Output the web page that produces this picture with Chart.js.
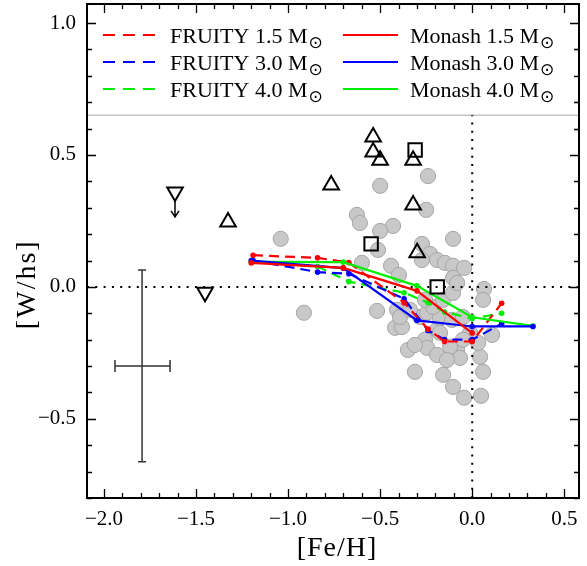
<!DOCTYPE html>
<html>
<head>
<meta charset="utf-8">
<script src="https://cdn.jsdelivr.net/npm/chart.js@4/dist/chart.umd.min.js"></script>
<style>
  html, body { margin: 0; padding: 0; background: #fff; }
  #wrap { width: 587px; height: 566px; }
</style>
</head>
<body>
<div id="wrap"><canvas id="chart" width="587" height="566"></canvas></div>
<script>
// tick labels
const xTickVals = [-2.0, -1.5, -1.0, -0.5, 0.0, 0.5];
const yTickVals = [-0.5, 0.0, 0.5, 1.0];

// observed stars (grey circles)
const starsFeH = [-1.04, -0.914, -0.50, -0.24, -0.626, -0.61, -0.43, -0.50, -0.25, -0.104,
  -0.512, -0.273, -0.229, -0.273, -0.191, -0.148, -0.104, -0.044, -0.599, -0.441,
  -0.398, -0.104, 0.064, -0.517, -0.408, -0.419, -0.381, -0.349, -0.311, -0.256,
  -0.245, -0.191, -0.158, -0.104, -0.044, 0.048, 0.059, 0.043, 0.032, 0.108,
  0.059, -0.082, -0.12, -0.066, -0.283, -0.245, -0.175, -0.11, -0.05, -0.213,
  -0.158, -0.104, -0.082, -0.392, -0.338, -0.012, -0.05, -0.175, -0.256, -0.311,
  -0.191, -0.137];
const starsWhs = [0.182, -0.098, 0.383, 0.42, 0.273, 0.242, 0.231, 0.212, 0.292, 0.182,
  0.14, 0.163, 0.125, 0.102, 0.102, 0.091, 0.08, 0.072, 0.091, 0.08,
  0.045, 0.034, -0.008, -0.091, -0.087, -0.155, -0.152, -0.239, -0.322, -0.2,
  -0.231, -0.163, -0.333, -0.379, -0.42, -0.413, -0.322, -0.265, -0.212, -0.182,
  -0.049, -0.239, -0.227, -0.269, -0.114, -0.098, -0.117, -0.125, -0.114, -0.076,
  -0.049, -0.023, 0.015, -0.114, -0.087, -0.174, -0.2, -0.174, -0.049, -0.22,
  -0.258, -0.277];

// open triangles
const triFeH = [-1.326, -0.766, -0.538, -0.538, -0.50, -0.321, -0.321, -0.299];
const triWhs = [0.246, 0.386, 0.568, 0.511, 0.48, 0.31, 0.48, 0.129];
// open squares
const sqFeH = [-0.31, -0.549, -0.19];
const sqWhs = [0.519, 0.163, 0.0];
// upside-down triangles (upper limits)
const downFeH = [-1.614, -1.451];
const downWhs = [0.36, -0.02];
const limitFeH = [-1.614];
const limitFrom = [0.33];
const limitTo = [0.265];

// typical error bar
const errFeH = [-1.793];
const errWhs = [-0.30];
const errFeHLo = [-1.94];
const errFeHHi = [-1.641];
const errWhsLo = [-0.663];
const errWhsHi = [0.064];

// FRUITY models
const fruityFeH = [-1.19, -0.84, -0.67, -0.37, -0.24, -0.15, 0.0, 0.16];
const fruity15 = [0.12, 0.11, 0.092, -0.06, -0.16, -0.207, -0.207, -0.062];
const fruity30 = [0.10, 0.056, 0.05, -0.045, -0.165, -0.20, -0.20, -0.14];
const fruity40 = [0.095, 0.077, 0.02, -0.022, -0.06, -0.095, -0.12, -0.10];

// Monash models
const monashFeH = [-1.2, -0.7, -0.3, 0.0, 0.33];
const monash15 = [0.091, 0.072, -0.015, -0.175];
const monash30 = [0.10, 0.071, -0.127, -0.15, -0.15];
const monash40 = [0.095, 0.094, 0.004, -0.115, -0.148];

// reference lines
const zeroLine = [0.0];
const legendLine = [0.65];

const xMin = -2.092, xMax = 0.58;
const yMin = -0.8, yMax = 1.072;

const pts = (xs, ys) => ys.map((v, i) => ({ x: xs[i], y: v }));
const serif = '"Liberation Serif", "DejaVu Serif", serif';

function modelSet(label, xs, ys, color, dashed, order) {
    return {
        label: label,
        data: pts(xs, ys),
        showLine: true,
        borderColor: color,
        backgroundColor: color,
        borderWidth: 2.2,
        borderDash: dashed ? [10, 6] : [],
        pointRadius: 2.8,
        pointBorderWidth: 0,
        order: order
    };
}

const legendItems = [
    { text: 'FRUITY 1.5 M', color: '#ff0000', dashed: true, col: 0, row: 0 },
    { text: 'FRUITY 3.0 M', color: '#0000ff', dashed: true, col: 0, row: 1 },
    { text: 'FRUITY 4.0 M', color: '#00ee00', dashed: true, col: 0, row: 2 },
    { text: 'Monash 1.5 M', color: '#ff0000', dashed: false, col: 1, row: 0 },
    { text: 'Monash 3.0 M', color: '#0000ff', dashed: false, col: 1, row: 1 },
    { text: 'Monash 4.0 M', color: '#00ee00', dashed: false, col: 1, row: 2 }
];

// frame with inward major/minor ticks on all sides, plus axis titles
const frameTicks = {
    id: 'frameTicks',
    afterDraw(chart) {
        const { ctx, chartArea: a, scales: { x, y } } = chart;
        ctx.save();
        ctx.strokeStyle = '#000';
        ctx.lineWidth = 1.3;
        ctx.beginPath();
        for (let v = Math.ceil(xMin * 10); v <= Math.floor(xMax * 10); v++) {
            const px = Math.round(x.getPixelForValue(v / 10)) + 0.5;
            const len = v % 5 === 0 ? 9 : 5;
            ctx.moveTo(px, a.bottom); ctx.lineTo(px, a.bottom - len);
            ctx.moveTo(px, a.top); ctx.lineTo(px, a.top + len);
        }
        for (let v = Math.ceil(yMin * 10); v <= Math.floor(yMax * 10); v++) {
            const py = Math.round(y.getPixelForValue(v / 10)) + 0.5;
            const len = v % 5 === 0 ? 9 : 5;
            ctx.moveTo(a.left, py); ctx.lineTo(a.left + len, py);
            ctx.moveTo(a.right, py); ctx.lineTo(a.right - len, py);
        }
        ctx.stroke();
        ctx.lineWidth = 2;
        ctx.strokeRect(a.left, a.top, a.right - a.left, a.bottom - a.top);

        // axis titles
        ctx.fillStyle = '#000';
        ctx.font = '28px ' + serif;
        ctx.textAlign = 'center';
        ctx.textBaseline = 'middle';
        ctx.letterSpacing = '1px';
        ctx.fillText('[Fe/H]', (a.left + a.right) / 2 + 4, 549);
        ctx.translate(28, y.getPixelForValue(0.01));
        ctx.rotate(-Math.PI / 2);
        ctx.letterSpacing = '2px';
        ctx.fillText('[W/hs]', 0, 0);
        ctx.restore();
    }
};

// error bar, upper-limit arrow and legend
const extras = {
    id: 'extras',
    afterDatasetsDraw(chart) {
        const { ctx, scales: { x, y } } = chart;
        ctx.save();
        // error bar
        ctx.strokeStyle = '#333';
        ctx.lineWidth = 1.5;
        errFeH.forEach((fx, i) => {
            const cx = x.getPixelForValue(fx), cy = y.getPixelForValue(errWhs[i]);
            const x0 = x.getPixelForValue(errFeHLo[i]), x1 = x.getPixelForValue(errFeHHi[i]);
            const y0 = y.getPixelForValue(errWhsLo[i]), y1 = y.getPixelForValue(errWhsHi[i]);
            ctx.beginPath();
            ctx.moveTo(x0, cy); ctx.lineTo(x1, cy);
            ctx.moveTo(x0, cy - 6); ctx.lineTo(x0, cy + 6);
            ctx.moveTo(x1, cy - 6); ctx.lineTo(x1, cy + 6);
            ctx.moveTo(cx, y0); ctx.lineTo(cx, y1);
            ctx.moveTo(cx - 4, y0); ctx.lineTo(cx + 4, y0);
            ctx.moveTo(cx - 4, y1); ctx.lineTo(cx + 4, y1);
            ctx.stroke();
        });
        // upper limit arrow
        ctx.strokeStyle = '#000';
        ctx.lineWidth = 1.5;
        limitFeH.forEach((fx, i) => {
            const px = x.getPixelForValue(fx);
            const p0 = y.getPixelForValue(limitFrom[i]), p1 = y.getPixelForValue(limitTo[i]);
            ctx.beginPath();
            ctx.moveTo(px, p0); ctx.lineTo(px, p1);
            ctx.moveTo(px - 4, p1 - 6); ctx.lineTo(px, p1); ctx.lineTo(px + 4, p1 - 6);
            ctx.stroke();
        });
        // legend
        const colX = [103, 343];
        const rowY = [35, 62, 89];
        legendItems.forEach(it => {
            const lx = colX[it.col], ly = rowY[it.row];
            ctx.strokeStyle = it.color;
            ctx.lineWidth = 2.2;
            ctx.setLineDash(it.dashed ? [12, 8] : []);
            ctx.beginPath();
            ctx.moveTo(lx, ly); ctx.lineTo(lx + 55, ly);
            ctx.stroke();
            ctx.setLineDash([]);
            ctx.fillStyle = '#000';
            ctx.font = '22px ' + serif;
            ctx.textBaseline = 'alphabetic';
            ctx.textAlign = 'left';
            ctx.fillText(it.text, lx + 67, ly + 8);
            const w = ctx.measureText(it.text).width;
            ctx.font = '17px "DejaVu Sans", sans-serif';
            ctx.fillText('\u2299', lx + 67 + w + 1, ly + 13);
        });
        ctx.restore();
    }
};

const fmt = v => (v < 0 ? '\u2212' : '') + Math.abs(v).toFixed(1);
const noPad = s => { s.paddingLeft = 0; s.paddingRight = 0; s.paddingTop = 0; s.paddingBottom = 0; };

new Chart(document.getElementById('chart'), {
    type: 'scatter',
    data: {
        datasets: [
            {
                label: 'stars',
                data: pts(starsFeH, starsWhs),
                pointRadius: 7.6,
                backgroundColor: '#c8c8c8',
                borderColor: '#a6a6a6',
                borderWidth: 1,
                order: 10
            },
            {
                label: 'y0',
                data: [{ x: xMin, y: zeroLine[0] }, { x: xMax, y: zeroLine[0] }],
                showLine: true, pointRadius: 0,
                borderColor: '#000', borderWidth: 2, borderDash: [2, 6.3],
                order: 9
            },
            {
                label: 'x0',
                data: [{ x: zeroLine[0], y: yMin }, { x: zeroLine[0], y: legendLine[0] }],
                showLine: true, pointRadius: 0,
                borderColor: '#000', borderWidth: 2, borderDash: [2, 6.3],
                order: 9
            },
            {
                label: 'legendline',
                data: [{ x: xMin, y: legendLine[0] }, { x: xMax, y: legendLine[0] }],
                showLine: true, pointRadius: 0,
                borderColor: '#c4c4c4', borderWidth: 1.5,
                order: 9
            },
            modelSet('FRUITY 1.5', fruityFeH, fruity15, '#ff0000', true, 5),
            modelSet('FRUITY 3.0', fruityFeH, fruity30, '#0000ff', true, 5),
            modelSet('FRUITY 4.0', fruityFeH, fruity40, '#00ee00', true, 5),
            modelSet('Monash 1.5', monashFeH, monash15, '#ff0000', false, 4),
            modelSet('Monash 3.0', monashFeH, monash30, '#0000ff', false, 4),
            modelSet('Monash 4.0', monashFeH, monash40, '#00ee00', false, 4),
            {
                label: 'triangles',
                data: pts(triFeH, triWhs),
                pointStyle: 'triangle', pointRadius: 9,
                backgroundColor: 'rgba(0,0,0,0)', borderColor: '#000', borderWidth: 2,
                order: 1
            },
            {
                label: 'squares',
                data: pts(sqFeH, sqWhs),
                pointStyle: 'rect', pointRadius: 9.5,
                backgroundColor: 'rgba(0,0,0,0)', borderColor: '#000', borderWidth: 2,
                order: 1
            },
            {
                label: 'down',
                data: pts(downFeH, downWhs),
                pointStyle: 'triangle', rotation: 180, pointRadius: 9,
                backgroundColor: 'rgba(0,0,0,0)', borderColor: '#000', borderWidth: 2,
                order: 1
            }
        ]
    },
    options: {
        responsive: false,
        animation: false,
        layout: { autoPadding: false, padding: { top: 4, right: 8, left: 0, bottom: 0 } },
        plugins: { legend: { display: false }, tooltip: { enabled: false } },
        scales: {
            x: {
                type: 'linear', min: xMin, max: xMax,
                grid: { display: false, drawTicks: false },
                border: { display: false },
                afterBuildTicks: s => { s.ticks = xTickVals.map(v => ({ value: v })); },
                afterFit: s => { s.height = 68; noPad(s); },
                ticks: { color: '#000', padding: 9, font: { family: serif, size: 21 }, callback: v => fmt(v), maxRotation: 0 }
            },
            y: {
                type: 'linear', min: yMin, max: yMax,
                grid: { display: false, drawTicks: false },
                border: { display: false },
                afterBuildTicks: s => { s.ticks = yTickVals.map(v => ({ value: v })); },
                afterFit: s => { s.width = 87; noPad(s); },
                ticks: { color: '#000', padding: 11, font: { family: serif, size: 21 }, callback: v => fmt(v) }
            }
        }
    },
    plugins: [frameTicks, extras]
});
</script>
</body>
</html>
